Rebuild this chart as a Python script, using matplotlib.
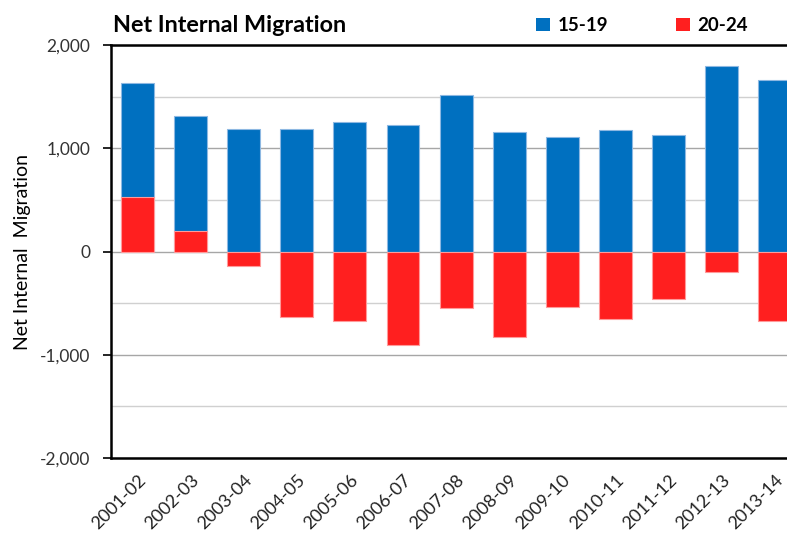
import numpy as np
import matplotlib.pyplot as plt
from matplotlib.ticker import MultipleLocator, FuncFormatter
from matplotlib.patches import Patch

plt.rcParams['font.family'] = ['Lato', 'DejaVu Sans']

years = ['2001-02', '2002-03', '2003-04', '2004-05', '2005-06', '2006-07', '2007-08',
         '2008-09', '2009-10', '2010-11', '2011-12', '2012-13', '2013-14']
age_15_19 = [1635, 1317, 1191, 1191, 1255, 1230, 1515, 1158, 1110, 1181, 1129, 1793, 1657]
age_20_24 = [527, 194, -143, -638, -670, -906, -550, -828, -540, -650, -463, -194, -670]

blue = '#0070C0'
red = '#FF1F1F'

fig = plt.figure(figsize=(7.87, 5.34), dpi=100)
ax = fig.add_axes([0.141, 0.1423, 0.877, 0.7734])

x = np.arange(len(years))
ax.bar(x, age_15_19, width=0.62, color=blue, edgecolor='#8DB8E2', linewidth=0.8, zorder=3)
ax.bar(x, age_20_24, width=0.62, color=red, edgecolor='#FF9A9A', linewidth=0.8, zorder=4)

ax.set_xlim(-0.5, len(years) - 0.5)
ax.set_ylim(-2000, 2000)
ax.yaxis.set_major_locator(MultipleLocator(1000))
ax.yaxis.set_minor_locator(MultipleLocator(500))
ax.yaxis.set_major_formatter(FuncFormatter(lambda v, p: f'{int(v):,}'))
ax.grid(axis='y', which='major', color='#a6a6a6', linewidth=1.0, zorder=0)
ax.grid(axis='y', which='minor', color='#d0d0d0', linewidth=1.0, zorder=0)
ax.tick_params(axis='y', which='major', length=6, width=1.2, labelsize=12.5, colors='black',
               labelcolor='#333333', pad=9)
ax.tick_params(axis='y', which='minor', length=0)
ax.tick_params(axis='x', length=0, labelsize=13, labelcolor='#222222', pad=10)
ax.set_xticks(x)
ax.set_xticklabels(years, rotation=45, ha='right', va='top', rotation_mode='anchor')
ax.set_axisbelow(True)

for s in ['left', 'bottom', 'top']:
    ax.spines[s].set_linewidth(1.8)
    ax.spines[s].set_color('black')
ax.spines['right'].set_visible(False)

ax.set_ylabel('Net Internal  Migration', fontsize=14, labelpad=6)

fig.text(0.1435, 0.952, 'Net Internal Migration', fontsize=16.8, fontweight='bold',
         ha='left', va='center')

handles = [Patch(facecolor=blue, label='15-19'), Patch(facecolor=red, label='20-24')]
fig.legend(handles=handles, loc='center left', bbox_to_anchor=(0.672, 0.952), ncol=2,
           frameon=False, prop={'weight': 'bold', 'size': 13.5}, handlelength=0.75,
           handleheight=0.75, handletextpad=0.4, columnspacing=3.6, borderaxespad=0)

fig.savefig('out.png', dpi=100)
